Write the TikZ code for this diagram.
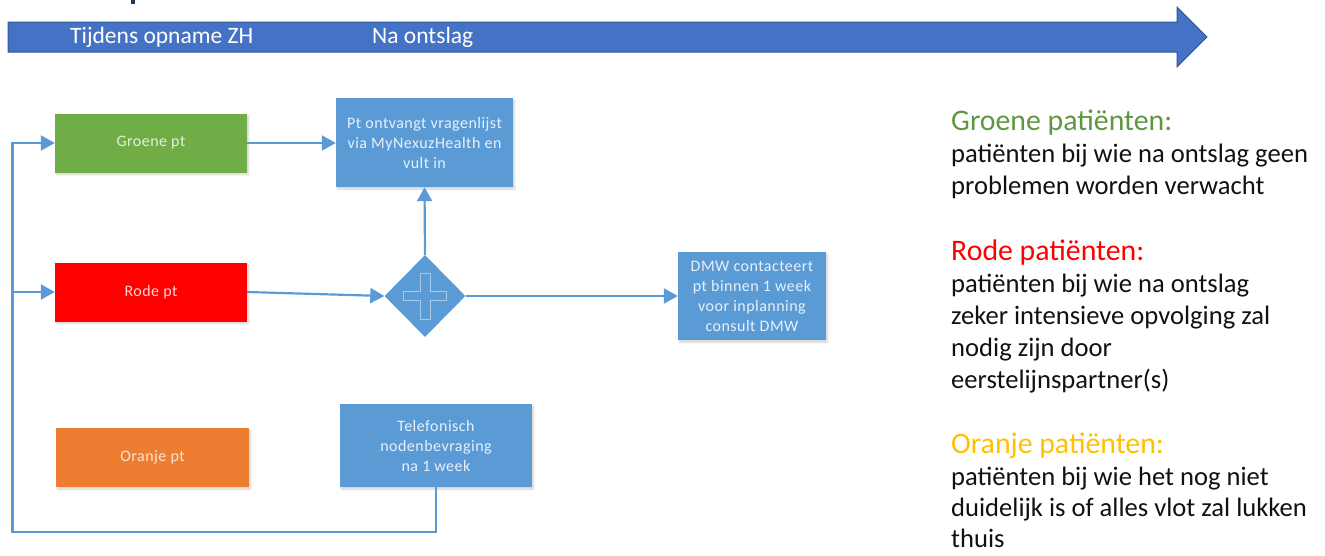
\documentclass[tikz,border=0pt]{standalone}
\usepackage{fontspec}
\setmainfont{Carlito}
\newfontfamily\boxfont[LetterSpace=3]{Carlito}
\usetikzlibrary{arrows.meta,shapes.geometric,shadows.blur}

\definecolor{barblue}{HTML}{4472C4}
\definecolor{barline}{HTML}{2F5597}
\definecolor{stepblue}{HTML}{5B9BD5}
\definecolor{crossline}{HTML}{A8CAEA}
\definecolor{greenbox}{HTML}{70AD47}
\definecolor{greentext}{HTML}{E4F0DC}
\definecolor{redbox}{HTML}{FF0000}
\definecolor{redtext}{HTML}{FFD6D6}
\definecolor{orangebox}{HTML}{ED7D31}
\definecolor{orangetext}{HTML}{FBE3D4}
\definecolor{bluetext}{HTML}{E6F0FA}
\definecolor{greenhead}{HTML}{5F9641}
\definecolor{redhead}{HTML}{FF0000}
\definecolor{orangehead}{HTML}{FFC000}
\definecolor{bodytext}{HTML}{111111}
\definecolor{titleblue}{HTML}{1F3864}

\tikzset{
  flowbox/.style={rectangle, inner sep=0pt, align=center,
    font=\boxfont\fontsize{16}{20}\selectfont,
    blur shadow={shadow xshift=1.5pt, shadow yshift=-2pt,
      shadow opacity=18, shadow blur steps=6}},
  conn/.style={draw=stepblue, line width=2.2pt,
    -{Triangle[length=14pt,width=15pt]}},
  barlabel/.style={anchor=west, text=white, inner sep=0pt,
    font=\fontsize{23.5}{26}\selectfont},
  headline/.style={anchor=base west, inner sep=0pt,
    font=\fontsize{29.8}{32}\selectfont},
  bodyline/.style={anchor=base west, inner sep=0pt, text=bodytext,
    font=\fontsize{26.6}{32}\selectfont},
}

\begin{document}
\begin{tikzpicture}[x=1pt,y=-1pt]
\useasboundingbox (0,0) rectangle (1325,555);

% remnant of the heading above the time bar
\fill[titleblue] (131,0) rectangle (135,3.5);

% time bar
\filldraw[fill=barblue, draw=barline, line width=1pt]
  (8,22) -- (1177,22) -- (1177,7) -- (1207,37) -- (1177,67)
  -- (1177,52) -- (8,52) -- cycle;
\node[barlabel] (tijdens) at (70,37) {Tijdens opname ZH};
\node[barlabel] (naontslag) at (372,37) {Na ontslag};

% patient groups
\node[flowbox, fill=greenbox, text=greentext,
  minimum width=192pt, minimum height=59pt] (groen) at (151,143) {Groene pt};
\node[flowbox, fill=redbox, text=redtext,
  minimum width=192pt, minimum height=59pt] (rood) at (151,292) {Rode pt};
\node[flowbox, fill=orangebox, text=orangetext,
  minimum width=193pt, minimum height=59pt] (oranje) at (152.5,457.5) {Oranje pt};

% follow-up steps
\node[flowbox, fill=stepblue, text=bluetext,
  minimum width=177pt, minimum height=89pt] (vragenlijst) at (424.5,142.5)
  {Pt ontvangt vragenlijst\\via MyNexuzHealth en\\vult in};
\node[flowbox, fill=stepblue, text=bluetext,
  minimum width=148pt, minimum height=88pt] (dmw) at (752,296)
  {DMW contacteert\\pt binnen 1 week\\voor inplanning\\consult DMW};
\node[flowbox, fill=stepblue, text=bluetext,
  minimum width=192pt, minimum height=83pt] (telefonisch) at (436,445.5)
  {Telefonisch\\nodenbevraging\\na 1 week};

% parallel gateway
\node[diamond, fill=stepblue, inner sep=0pt, aspect=1,
  minimum width=81pt, minimum height=82pt] (gateway) at (425,296) {};
\draw[crossline, line width=0.8pt]
  ([shift={(-5,-23)}]gateway.center) -- ++(10,0) -- ++(0,18.5)
  -- ++(16.5,0) -- ++(0,9) -- ++(-16.5,0) -- ++(0,18.5) -- ++(-10,0)
  -- ++(0,-18.5) -- ++(-16.5,0) -- ++(0,-9) -- ++(16.5,0) -- cycle;

% connectors
\coordinate (lus) at (12.5,532);
\draw[conn] (groen.east) -- (groen.east -| vragenlijst.west);
\draw[conn] (rood.east) -- (gateway.west);
\draw[conn] (gateway.north) -- (vragenlijst.south);
\draw[conn] (gateway.east) -- (dmw.west);
\draw[conn] (telefonisch.south) |- (lus) |- (groen.west);
\draw[conn] (lus |- rood.west) -- (rood.west);

% legend
\node[headline, text=greenhead] (kopgroen) at (951,130) {Groene patiënten:};
\node[bodyline] (groen1) at (951,162) {patiënten bij wie na ontslag geen};
\node[bodyline] (groen2) at (951,194) {problemen worden verwacht};

\node[headline, text=redhead] (koprood) at (951,260) {Rode patiënten:};
\node[bodyline] (rood1) at (951,292) {patiënten bij wie na ontslag};
\node[bodyline] (rood2) at (951,324) {zeker intensieve opvolging zal};
\node[bodyline] (rood3) at (951,356) {nodig zijn door};
\node[bodyline] (rood4) at (951,388) {eerstelijnspartner(s)};

\node[headline, text=orangehead] (koporanje) at (951,453) {Oranje patiënten:};
\node[bodyline] (oranje1) at (951,485) {patiënten bij wie het nog niet};
\node[bodyline] (oranje2) at (951,516) {duidelijk is of alles vlot zal lukken};
\node[bodyline] (oranje3) at (951,547) {thuis};
\end{tikzpicture}
\end{document}
